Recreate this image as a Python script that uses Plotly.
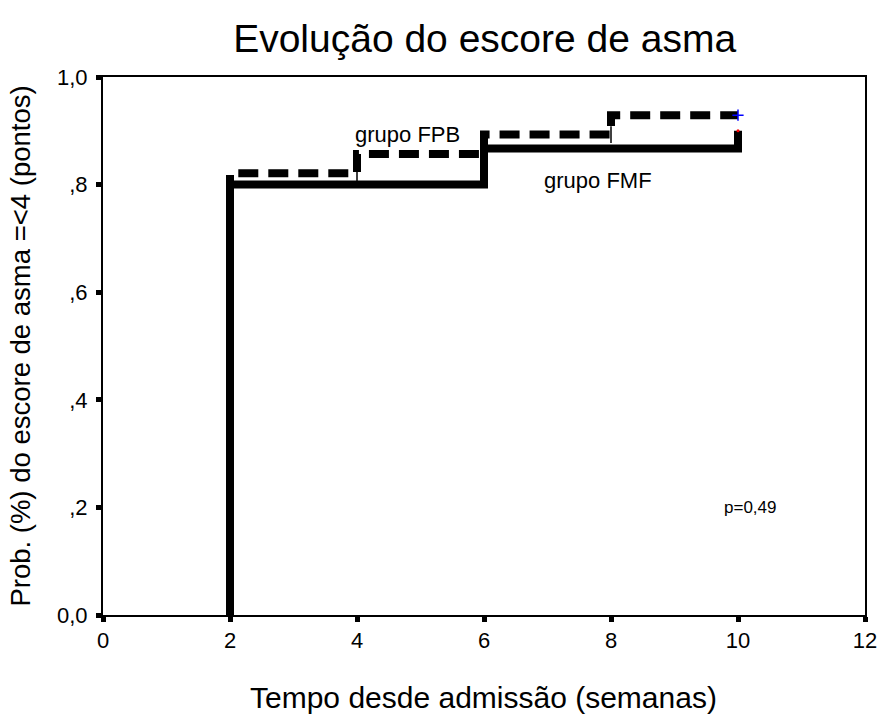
import plotly.graph_objects as go

# Data
fmf_time = [2, 2, 6, 10]
fmf_prob = [0.0, 0.800, 0.867, 0.900]
fpb_time = [2, 2, 4, 6, 8, 10]
fpb_prob = [0.0, 0.821, 0.857, 0.893, 0.929, 0.929]
cens_fpb_time = [4, 8]
cens_fpb_prob = [0.821, 0.893]
cens_end_fpb_time = [10]
cens_end_fpb_prob = [0.929]
cens_end_fmf_time = [10]
cens_end_fmf_prob = [0.900]

x_ticks = [0, 2, 4, 6, 8, 10, 12]
y_ticks = [0, 0.2, 0.4, 0.6, 0.8, 1.0]
y_tick_labels = ["0,0", ",2", ",4", ",6", ",8", "1,0"]

FONT = "Liberation Sans, Arial, sans-serif"

fig = go.Figure()
fig.add_trace(go.Scatter(x=fpb_time, y=fpb_prob, mode="lines", line_shape="hv",
                         line=dict(color="black", width=8, dash="20px,10px"),
                         showlegend=False, hoverinfo="skip"))
fig.add_trace(go.Scatter(x=fmf_time, y=fmf_prob, mode="lines", line_shape="hv",
                         line=dict(color="black", width=8),
                         showlegend=False, hoverinfo="skip"))
fig.add_trace(go.Scatter(x=cens_fpb_time, y=cens_fpb_prob, mode="markers",
                         marker=dict(symbol="line-ns-open", size=12, color="black",
                                     line=dict(color="black", width=1.5)),
                         showlegend=False, hoverinfo="skip"))
fig.add_trace(go.Scatter(x=cens_end_fpb_time, y=cens_end_fpb_prob, mode="markers",
                         marker=dict(symbol="cross-thin-open", size=8, color="blue",
                                     line=dict(color="blue", width=1.5)),
                         showlegend=False, hoverinfo="skip"))
fig.add_trace(go.Scatter(x=cens_end_fmf_time, y=cens_end_fmf_prob, mode="markers",
                         marker=dict(symbol="circle", size=3, color="red"),
                         showlegend=False, hoverinfo="skip"))

fig.add_annotation(x=4.8, y=0.894, text="grupo FPB", showarrow=False,
                   xanchor="center", yanchor="middle",
                   font=dict(family=FONT, size=22, color="black"))
fig.add_annotation(x=7.8, y=0.808, text="grupo FMF", showarrow=False,
                   xanchor="center", yanchor="middle",
                   font=dict(family=FONT, size=22, color="black"))
fig.add_annotation(x=10.19, y=0.199, text="p=0,49", showarrow=False,
                   xanchor="center", yanchor="middle",
                   font=dict(family=FONT, size=17, color="black"))
# x-axis title
fig.add_annotation(x=0.4987, y=-0.153, xref="paper", yref="paper",
                   text="Tempo desde admissão (semanas)", showarrow=False,
                   xanchor="center", yanchor="middle",
                   font=dict(family=FONT, size=30, color="black"))

fig.update_layout(
    width=878, height=718,
    margin=dict(l=103, r=13, t=77, b=103),
    paper_bgcolor="white", plot_bgcolor="white",
    title=dict(text="Evolução do escore de asma", x=0.552, xanchor="center",
               y=0.946, yanchor="middle",
               font=dict(family=FONT, size=39, color="black")),
    font=dict(family=FONT, color="black"),
)
fig.update_xaxes(range=[0, 12], tickvals=x_ticks, ticktext=[str(v) for v in x_ticks],
                 showgrid=False, zeroline=False, showline=True, linecolor="black",
                 linewidth=2, mirror=True, ticks="outside", ticklen=5, tickwidth=5,
                 tickcolor="black", tickfont=dict(family=FONT, size=22),
                 automargin=False)
fig.update_yaxes(range=[0, 1], tickvals=y_ticks, ticktext=y_tick_labels,
                 showgrid=False, zeroline=False, showline=True, linecolor="black",
                 linewidth=2, mirror=True, ticks="outside", ticklen=5, tickwidth=5,
                 tickcolor="black", tickfont=dict(family=FONT, size=22),
                 ticklabelstandoff=4, automargin=False,
                 title=dict(text="Prob. (%) do escore de asma =<4 (pontos)",
                            font=dict(family=FONT, size=27.5), standoff=18))

fig.write_html("out.html", config={"displayModeBar": False},
               post_script="document.body.style.margin='0px';document.body.style.overflow='hidden';")
